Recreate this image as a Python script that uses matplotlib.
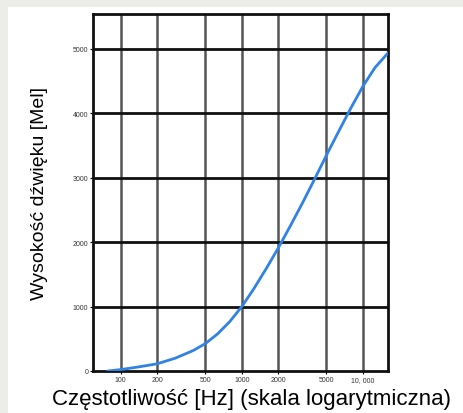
import matplotlib
matplotlib.use("Agg")
import matplotlib.pyplot as plt
from matplotlib.ticker import FixedLocator, NullLocator
from matplotlib.patches import Rectangle

# Data
freq_hz = [78, 100, 141, 200, 282, 398, 500, 631, 794, 1000, 1259, 1585, 2000,
           2512, 3162, 3981, 5000, 6310, 7943, 10000, 12589, 16100]
pitch_mel = [0, 22, 64, 112, 199, 319, 426, 576, 766, 1000, 1280, 1585, 1910,
             2250, 2605, 2975, 3350, 3720, 4080, 4420, 4710, 4935]

x_ticks = [100, 200, 500, 1000, 2000, 5000, 10000]
x_tick_labels = ["100", "200", "500", "1000", "2000", "5000", "10, 000"]
y_ticks = [0, 1000, 2000, 3000, 4000, 5000]
y_tick_labels = ["0", "1000", "2000", "3000", "4000", "5000"]

xlabel = "Częstotliwość [Hz] (skala logarytmiczna)"
ylabel = "Wysokość dźwięku [Mel]"

plt.rcParams['font.family'] = ['Liberation Sans', 'DejaVu Sans']

W, H = 464, 414
fig = plt.figure(figsize=(W / 100, H / 100), dpi=100)
fig.patch.set_facecolor('#ecede8')
fig.patches.append(Rectangle((8 / W, 0), 1 - 8 / W, 1 - 8 / H, transform=fig.transFigure,
                             facecolor='white', edgecolor='none', zorder=-10))

ax = fig.add_axes([93 / W, 1 - 372 / H, (388 - 93) / W, (372 - 15) / H])
ax.set_xscale('log')
ax.set_xlim(59, 16100)
ax.set_ylim(0, 5540)

ax.plot(freq_hz, pitch_mel, color='#3082e4', lw=2.0, zorder=3,
        solid_capstyle='round', solid_joinstyle='round')

for x in x_ticks:
    ax.axvline(x, color='#555555', lw=1.8, zorder=1)
for y in y_ticks[1:]:
    ax.axhline(y, color='#111111', lw=2.0, zorder=1)

ax.xaxis.set_major_locator(FixedLocator(x_ticks))
ax.xaxis.set_minor_locator(NullLocator())
ax.set_xticklabels(x_tick_labels, fontsize=5, color='#333333')
ax.set_yticks(y_ticks)
ax.set_yticklabels(y_tick_labels, fontsize=5, color='#333333')
ax.tick_params(axis='both', length=2, width=0.8, pad=1.5)

for s in ax.spines.values():
    s.set_linewidth(2.0)
    s.set_color('#111111')

ax.set_xlabel(xlabel, fontsize=16, labelpad=4)
ax.xaxis.label.set_x(0.538)
ax.set_ylabel(ylabel, fontsize=14, labelpad=18)

fig.savefig("out.png", dpi=100, facecolor=fig.get_facecolor())
